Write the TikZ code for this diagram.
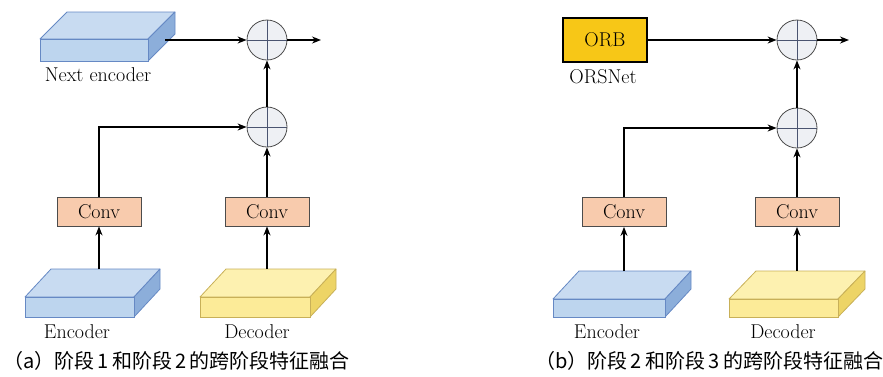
\documentclass[tikz,border=0pt]{standalone}
\usepackage{fontspec}
\newfontfamily\cjk{Noto Sans CJK SC}
\usetikzlibrary{arrows.meta}
\definecolor{encFront}{HTML}{BDD5EE}
\definecolor{encTop}{HTML}{C8DBF1}
\definecolor{encSide}{HTML}{8CAEDA}
\definecolor{encLine}{HTML}{6689C4}
\definecolor{decFront}{HTML}{FCEB98}
\definecolor{decTop}{HTML}{FDF1B0}
\definecolor{decSide}{HTML}{EDD466}
\definecolor{decLine}{HTML}{C8B058}
\definecolor{convFill}{HTML}{F8CBAD}
\definecolor{orbFill}{HTML}{F7C717}
\definecolor{sumFill}{HTML}{EEF0F4}
\definecolor{crossLine}{HTML}{4A5470}
\tikzset{
  lbl/.style={font=\fontsize{20}{22}\selectfont, inner sep=0pt},
  convbox/.style={draw=black!70, fill=convFill, line width=0.8pt,
    minimum width=84pt, minimum height=29pt, inner sep=0pt,
    font=\fontsize{20}{22}\selectfont},
  orbbox/.style={draw=black, fill=orbFill, line width=1.5pt,
    minimum width=84pt, minimum height=44pt, inner sep=0pt,
    font=\fontsize{20}{22}\selectfont},
  sumnode/.style={circle, draw=black!70, fill=sumFill, line width=0.8pt,
    minimum size=40pt, inner sep=0pt,
    path picture={\draw[crossLine, line width=0.8pt]
      (path picture bounding box.north) -- (path picture bounding box.south)
      (path picture bounding box.west) -- (path picture bounding box.east);}},
  flow/.style={line width=1.4pt, -{Stealth[length=9pt,width=7pt]}},
  caption/.style={anchor=west, inner sep=0pt, font=\fontsize{20}{22}\cjk},
}
% flat slab: front face (x1,y1)-(x2,y2), depth offset (dx,dy),
% colour prefix (Front/Top/Side), outline colour
\newcommand{\slab}[8]{%
  \draw[draw=#8, line width=0.8pt, fill=#7Top, line join=round]
    (#1,#3) -- (#1+#5,#3-#6) -- (#2+#5,#3-#6) -- (#2,#3) -- cycle;
  \draw[draw=#8, line width=0.8pt, fill=#7Side, line join=round]
    (#2,#3) -- (#2+#5,#3-#6) -- (#2+#5,#4-#6) -- (#2,#4) -- cycle;
  \draw[draw=#8, line width=0.8pt, fill=#7Front]
    (#1,#3) rectangle (#2,#4);
}
\begin{document}
\begin{tikzpicture}[x=1pt, y=-1pt]
\useasboundingbox (0,0) rectangle (883,376);

% ---------------- (a) stage 1 and stage 2 ----------------
\slab{40}{148}{39}{61}{27}{27}{enc}{encLine}
\slab{25}{134}{297}{317}{26}{28}{enc}{encLine}
\slab{200}{310}{297}{317}{26}{28}{dec}{decLine}

\node[lbl] (aNextLbl) at (98,75) {Next encoder};
\node[lbl] (aEncLbl) at (77,332) {Encoder};
\node[lbl] (aDecLbl) at (257,332) {Decoder};

\coordinate (aNextOut) at (165,40);
\coordinate (aEncTop) at (99,269);
\coordinate (aDecTop) at (267,269);

\node[convbox] (aConvE) at (99,211.5) {Conv};
\node[convbox] (aConvD) at (267,211.5) {Conv};
\node[sumnode] (aSum2) at (267,127) {};
\node[sumnode] (aSum1) at (267,40) {};
\coordinate (aOut) at (321,40);

\draw[flow] (aEncTop) -- (aConvE.south);
\draw[flow] (aDecTop) -- (aConvD.south);
\draw[flow] (aConvE.north) |- (aSum2.west);
\draw[flow] (aConvD.north) -- (aSum2.south);
\draw[flow] (aSum2.north) -- (aSum1.south);
\draw[flow] (aNextOut) -- (aSum1.west);
\draw[flow] (aSum1.east) -- (aOut);

\node[caption] (aCap) at (3,361) {（a）阶段\,1\,和阶段\,2\,的跨阶段特征融合};

% ---------------- (b) stage 2 and stage 3 ----------------
\slab{553}{665}{299}{317}{26}{28}{enc}{encLine}
\slab{729}{838}{299}{317}{27}{28}{dec}{decLine}

\node[orbbox] (bOrb) at (605,40) {ORB};
\node[lbl] (bOrsLbl) at (603,77) {ORSNet};
\node[lbl] (bEncLbl) at (607,332) {Encoder};
\node[lbl] (bDecLbl) at (783,332) {Decoder};

\coordinate (bEncTop) at (624,271);
\coordinate (bDecTop) at (797,271);

\node[convbox] (bConvE) at (624,212) {Conv};
\node[convbox] (bConvD) at (797,212) {Conv};
\node[sumnode] (bSum2) at (797,128) {};
\node[sumnode] (bSum1) at (797,40) {};
\coordinate (bOut) at (849,40);

\draw[flow] (bEncTop) -- (bConvE.south);
\draw[flow] (bDecTop) -- (bConvD.south);
\draw[flow] (bConvE.north) |- (bSum2.west);
\draw[flow] (bConvD.north) -- (bSum2.south);
\draw[flow] (bSum2.north) -- (bSum1.south);
\draw[flow] (bOrb.east) -- (bSum1.west);
\draw[flow] (bSum1.east) -- (bOut);

\node[caption] (bCap) at (535,361) {（b）阶段\,2\,和阶段\,3\,的跨阶段特征融合};
\end{tikzpicture}
\end{document}
